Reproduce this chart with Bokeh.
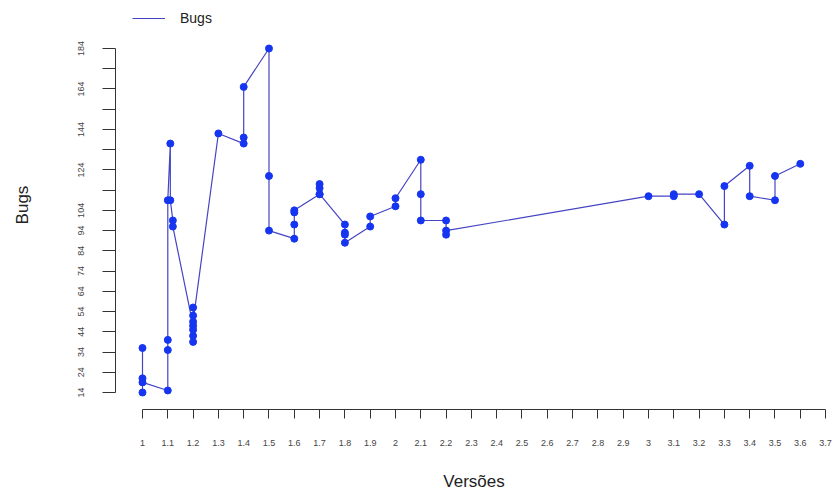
from bokeh.plotting import figure
from bokeh.models import Range1d, FixedTicker, Legend, LegendItem
from bokeh.embed import file_html
from bokeh.resources import INLINE

# ---- data (in plotting order) ----
versions = [1.0, 1.0, 1.0, 1.0,
            1.1, 1.1, 1.1, 1.1,
            1.11, 1.11,
            1.12, 1.12,
            1.2, 1.2, 1.2, 1.2, 1.2, 1.2, 1.2,
            1.3,
            1.4, 1.4, 1.4,
            1.5, 1.5, 1.5,
            1.6, 1.6, 1.6, 1.6,
            1.7, 1.7, 1.7, 1.7,
            1.8, 1.8, 1.8, 1.8,
            1.9, 1.9,
            2.0, 2.0,
            2.1, 2.1, 2.1,
            2.2, 2.2, 2.2,
            3.0,
            3.1, 3.1,
            3.2,
            3.3, 3.3,
            3.4, 3.4,
            3.5, 3.5,
            3.6]
bugs = [36, 14, 21, 19,
        15, 35, 40, 109,
        137, 109,
        99, 96,
        47, 39, 42, 45, 52, 56, 49,
        142,
        137, 140, 165,
        184, 121, 94,
        90, 97, 103, 104,
        112, 117, 115, 112,
        97, 93, 92, 88,
        96, 101,
        106, 110,
        129, 112, 99,
        99, 92, 94,
        111,
        111, 112,
        112,
        97, 116,
        126, 111,
        109, 121,
        127]

x_ticks = [1.0, 1.1, 1.2, 1.3, 1.4, 1.5, 1.6, 1.7, 1.8, 1.9,
           2.0, 2.1, 2.2, 2.3, 2.4, 2.5, 2.6, 2.7, 2.8, 2.9,
           3.0, 3.1, 3.2, 3.3, 3.4, 3.5, 3.6, 3.7]
x_tick_labels = ["1", "1.1", "1.2", "1.3", "1.4", "1.5", "1.6", "1.7", "1.8", "1.9",
                 "2", "2.1", "2.2", "2.3", "2.4", "2.5", "2.6", "2.7", "2.8", "2.9",
                 "3", "3.1", "3.2", "3.3", "3.4", "3.5", "3.6", "3.7"]
y_ticks = [14, 24, 34, 44, 54, 64, 74, 84, 94, 104, 114, 124, 134, 144, 154, 164, 174, 184]
y_tick_labels = ["14", "24", "34", "44", "54", "64", "74", "84", "94", "104", "",
                 "124", "", "144", "", "164", "", "184"]

FONT = "Liberation Sans"

p = figure(width=832, height=493, output_backend="svg", toolbar_location=None,
           x_range=Range1d(0.8933, 3.7273), y_range=Range1d(5.6, 207.7),
           min_border_left=115, min_border_right=0, min_border_top=0, min_border_bottom=84)
p.outline_line_color = None
p.grid.visible = False
p.background_fill_color = "white"
p.border_fill_color = "white"

line_r = p.line(versions, bugs, line_color="#4444c4", line_width=1.2)
p.scatter(versions, bugs, size=7, fill_color="#1535f0", line_color="#1535f0")

# x axis
xa = p.xaxis[0]
xa.ticker = FixedTicker(ticks=x_ticks)
xa.major_label_overrides = {t: l for t, l in zip(x_ticks, x_tick_labels)}
xa.bounds = (1.0, 3.7)
xa.minor_tick_line_color = None
xa.major_tick_out = 9
xa.major_tick_in = 0
xa.major_label_standoff = 21
xa.major_label_text_font = FONT
xa.major_label_text_font_size = "9px"
xa.major_label_text_color = "#444444"
xa.axis_line_color = "#333333"
xa.major_tick_line_color = "#333333"
xa.axis_label = "Versões"
xa.axis_label_text_font = FONT
xa.axis_label_text_font_size = "17px"
xa.axis_label_text_font_style = "normal"
xa.axis_label_text_color = "#222222"
xa.axis_label_standoff = 23

# y axis
ya = p.yaxis[0]
ya.ticker = FixedTicker(ticks=y_ticks)
ya.major_label_overrides = {t: l for t, l in zip(y_ticks, y_tick_labels)}
ya.bounds = (14, 184)
ya.minor_tick_line_color = None
ya.major_tick_out = 13
ya.major_tick_in = 0
ya.major_label_standoff = 18
ya.major_label_orientation = "vertical"
ya.major_label_text_font = FONT
ya.major_label_text_font_size = "9px"
ya.major_label_text_color = "#444444"
ya.axis_line_color = "#333333"
ya.major_tick_line_color = "#333333"
ya.axis_label = "Bugs"
ya.axis_label_text_font = FONT
ya.axis_label_text_font_size = "17px"
ya.axis_label_text_font_style = "normal"
ya.axis_label_text_color = "#222222"
ya.axis_label_standoff = 44

legend = Legend(items=[LegendItem(label="Bugs", renderers=[line_r])],
                location=(17, 381), padding=8, margin=0,
                glyph_width=33, glyph_height=20, label_standoff=15,
                label_text_font=FONT, label_text_font_size="14px",
                label_text_color="#222222",
                border_line_color=None, background_fill_alpha=0)
p.add_layout(legend, "center")

open("out.html", "w").write(file_html(p, INLINE))
